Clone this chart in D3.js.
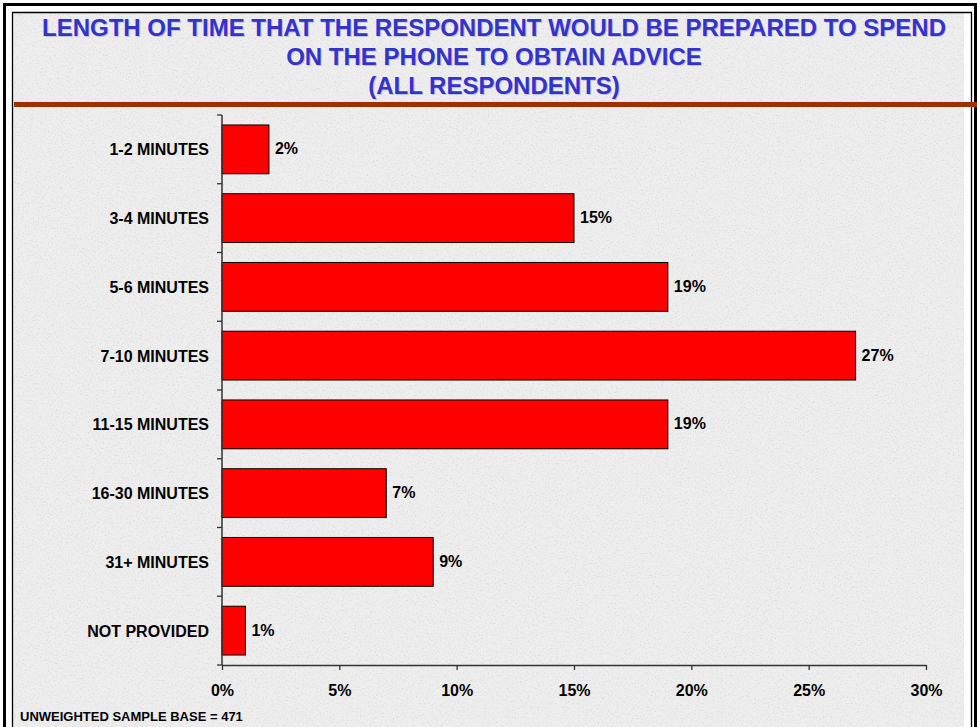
<!DOCTYPE html>
<html>
<head>
<meta charset="utf-8">
<script src="https://cdn.jsdelivr.net/npm/d3@7"></script>
<style>
  html, body { margin: 0; padding: 0; background: #fff; }
  svg { display: block; }
  text { font-family: Arial, "Liberation Sans", sans-serif; font-weight: bold; }
</style>
</head>
<body>
<svg id="chart" width="977" height="727"></svg>
<script>
// Survey answers: how long respondents would spend on the phone for advice
const categories = ["1-2 MINUTES", "3-4 MINUTES", "5-6 MINUTES", "7-10 MINUTES",
                    "11-15 MINUTES", "16-30 MINUTES", "31+ MINUTES", "NOT PROVIDED"];
const shares = [2, 15, 19, 27, 19, 7, 9, 1];
const xTicks = [0, 5, 10, 15, 20, 25, 30];
const titleLines = ["LENGTH OF TIME THAT THE RESPONDENT WOULD BE PREPARED TO SPEND",
                    "ON THE PHONE TO OBTAIN ADVICE",
                    "(ALL RESPONDENTS)"];
const footnote = "UNWEIGHTED SAMPLE BASE = 471";

(function () {
const W = 977, H = 727;
const svg = d3.select("#chart");

// Granite-style backdrop
const defs = svg.append("defs");
const f = defs.append("filter").attr("id", "granite")
  .attr("x", 0).attr("y", 0).attr("width", "100%").attr("height", "100%");
f.append("feTurbulence").attr("type", "fractalNoise")
  .attr("baseFrequency", 0.6).attr("numOctaves", 3).attr("seed", 7).attr("result", "n");
f.append("feColorMatrix").attr("in", "n").attr("type", "matrix")
  .attr("values", "0 0 0 0 0.55  0 0 0 0 0.55  0 0 0 0 0.55  -1.2 0 0 0 0.6")
  .attr("result", "speck");
f.append("feComposite").attr("in", "speck").attr("in2", "SourceGraphic").attr("operator", "atop");

svg.append("rect").attr("width", W).attr("height", H).attr("fill", "#fff");
svg.append("rect").attr("x", 13).attr("y", 13).attr("width", W - 26).attr("height", H)
  .attr("fill", "#eeeeee").attr("filter", "url(#granite)");

// Double frame
svg.append("path").attr("d", `M4.5,${H + 5}V4.5H975.5V${H + 5}`)
  .attr("fill", "none").attr("stroke", "#000").attr("stroke-width", 3);
svg.append("path").attr("d", `M12.5,${H + 5}V12.5H971.5V${H + 5}`)
  .attr("fill", "none").attr("stroke", "#000").attr("stroke-width", 1.3);

// Title
const title = svg.append("g");
titleLines.forEach((t, i) => {
  const ty = 36 + i * 29;
  title.append("text").attr("x", 494).attr("y", ty + 1.2)
    .attr("text-anchor", "middle").attr("font-size", 24).attr("fill", "#9a9ab8")
    .attr("opacity", 0.5).attr("dx", 1.2).text(t);
  title.append("text").attr("x", 494).attr("y", ty)
    .attr("text-anchor", "middle").attr("font-size", 24).attr("fill", "#3333cc").text(t);
});
svg.append("rect").attr("x", 14).attr("y", 102).attr("width", W - 14).attr("height", 5)
  .attr("fill", "#993300");

// Plot area
const pLeft = 222, pRight = 926, pTop = 115, pBottom = 665;
const x = d3.scaleLinear().domain([0, 30]).range([pLeft, pRight]);
const y = d3.scaleBand().domain(categories).range([pTop, pBottom]).paddingInner(0.29).paddingOuter(0.145);

svg.append("g").selectAll("rect").data(shares).join("rect")
  .attr("x", x(0))
  .attr("y", (d, i) => y(categories[i]))
  .attr("width", d => x(d) - x(0))
  .attr("height", y.bandwidth())
  .attr("fill", "#ff0000").attr("stroke", "#000").attr("stroke-width", 1);

svg.append("g").selectAll("text").data(shares).join("text")
  .attr("x", d => x(d) + 6)
  .attr("y", (d, i) => y(categories[i]) + y.bandwidth() / 2 + 5)
  .attr("font-size", 16).attr("fill", "#000")
  .text(d => d + "%");

// Axes
const xAxis = d3.axisBottom(x).tickValues(xTicks).tickFormat(d => d + "%")
  .tickSizeInner(5).tickSizeOuter(0).tickPadding(15);
const gx = svg.append("g").attr("transform", `translate(0,${pBottom})`).call(xAxis);
gx.select(".domain").attr("stroke", "#333").attr("stroke-width", 1.5);
gx.selectAll(".tick line").attr("stroke", "#333").attr("stroke-width", 1.3);
gx.selectAll(".tick text").attr("font-size", 16).attr("font-family", null).attr("fill", "#000");

// Category axis with ticks on band boundaries
const bounds = categories.map(c => y(c) - y.step() * y.paddingInner() / 2).concat([pBottom]);
const gy = svg.append("g");
gy.append("line").attr("x1", pLeft).attr("x2", pLeft).attr("y1", pTop).attr("y2", pBottom)
  .attr("stroke", "#333").attr("stroke-width", 1.5);
gy.selectAll("line.tk").data(bounds).join("line").attr("class", "tk")
  .attr("x1", pLeft - 5).attr("x2", pLeft).attr("y1", d => d).attr("y2", d => d)
  .attr("stroke", "#333").attr("stroke-width", 1.3);
gy.selectAll("text").data(categories).join("text")
  .attr("x", 209).attr("y", d => y(d) + y.bandwidth() / 2 + 6)
  .attr("text-anchor", "end").attr("font-size", 16).attr("fill", "#000")
  .text(d => d);

// Footnote
svg.append("text").attr("x", 20).attr("y", 721).attr("font-size", 13).attr("fill", "#000").text(footnote);
})();
</script>
</body>
</html>
